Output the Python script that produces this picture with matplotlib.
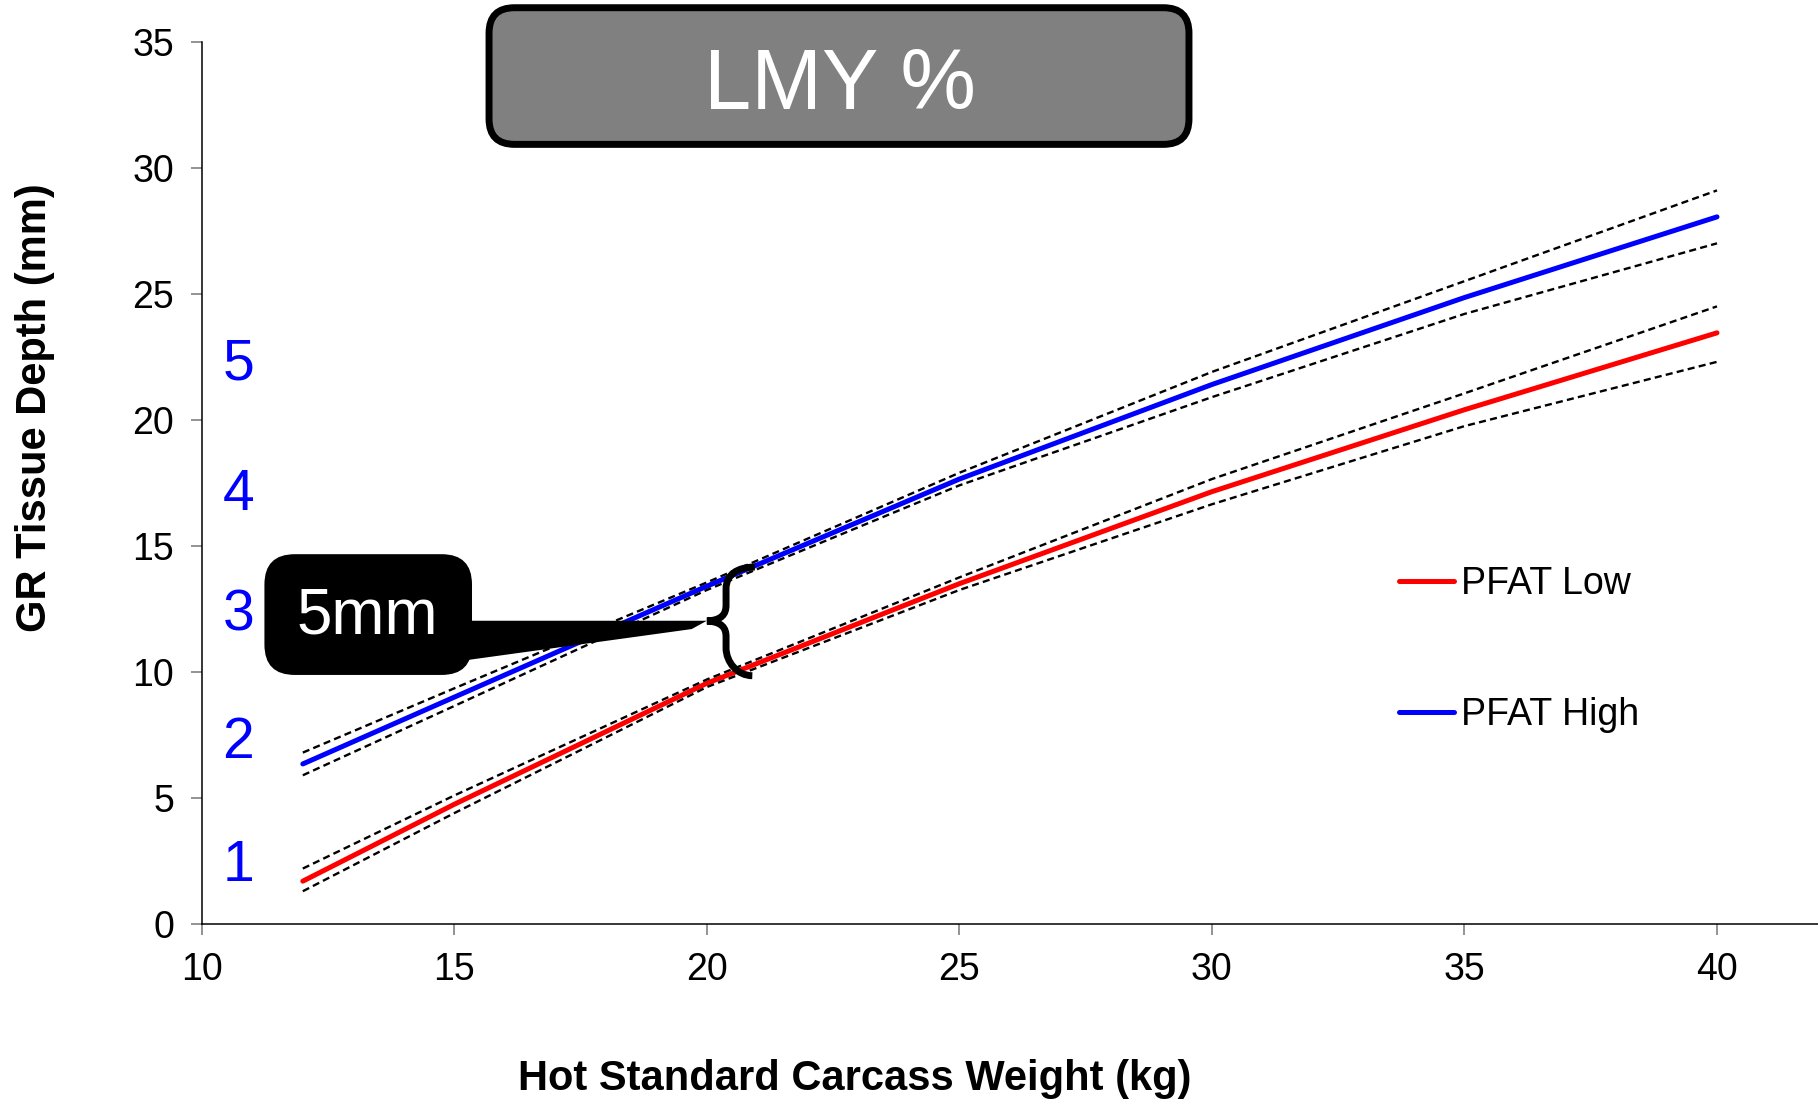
import matplotlib
matplotlib.use("Agg")
import matplotlib.pyplot as plt
from matplotlib.patches import FancyBboxPatch, Polygon, PathPatch
from matplotlib.path import Path

# values
weight = [12, 15, 20, 25, 30, 35, 40]
pfat_low = [1.7, 4.75, 9.55, 13.5, 17.15, 20.4, 23.45]
pfat_high = [6.35, 9.0, 13.4, 17.65, 21.4, 24.85, 28.05]
low_upper = [2.2, 5.1, 9.7, 13.75, 17.65, 21.05, 24.5]
low_lower = [1.3, 4.4, 9.4, 13.25, 16.65, 19.75, 22.3]
high_upper = [6.8, 9.35, 13.55, 17.9, 21.9, 25.5, 29.1]
high_lower = [5.9, 8.65, 13.25, 17.4, 20.9, 24.2, 27.0]

grade_labels = ["1", "2", "3", "4", "5"]
grade_y = [2.3, 7.2, 12.25, 17.0, 22.2]

plt.rcParams['font.family'] = ['Liberation Sans', 'DejaVu Sans']

fig = plt.figure(figsize=(18.18, 11.02), dpi=100)
ax = fig.add_axes([0.111, 0.1615, 0.889, 0.8007])

# fitted lines + dashed bands
ax.plot(weight, pfat_low, color='red', lw=3.6, label='PFAT Low',
        solid_capstyle='round', zorder=3)
ax.plot(weight, pfat_high, color='blue', lw=3.6, label='PFAT High',
        solid_capstyle='round', zorder=3)
for band in (low_upper, low_lower, high_upper, high_lower):
    ax.plot(weight, band, color='black', lw=1.7, dashes=(3, 1.8), zorder=4)

ax.set_xlim(10, 42)
ax.set_ylim(0, 35)
ax.set_xticks(range(10, 41, 5))
ax.set_yticks(range(0, 36, 5))
ax.spines['top'].set_visible(False)
ax.spines['right'].set_visible(False)
for s in ('left', 'bottom'):
    ax.spines[s].set_linewidth(1.1)
ax.tick_params(length=8, width=1.2, color='gray', labelsize=27, pad=12)

ax.set_xlabel('Hot Standard Carcass Weight (kg)', fontsize=30, fontweight='bold')
ax.xaxis.label.set_va('center')
ax.xaxis.set_label_coords(0.404, -0.176)
ax.set_ylabel('GR Tissue Depth (mm)', fontsize=30, fontweight='bold')
ax.yaxis.label.set_va('center')
ax.yaxis.set_label_coords(-0.103, 0.585)

# grade numbers on the left
for lab, yv in zip(grade_labels, grade_y):
    ax.text(10.72, yv, lab, color='blue', fontsize=41, ha='center', va='center')

ax.legend(loc='upper left', bbox_to_anchor=(0.741, 0.406), frameon=False,
          fontsize=27, handlelength=1.45, handletextpad=0.2, labelspacing=2.55,
          borderpad=0, borderaxespad=0)

# 5mm callout
box = FancyBboxPatch((11.24, 9.88), 4.11, 4.79,
                     boxstyle='round,pad=0,rounding_size=0.6',
                     mutation_aspect=2.0, fc='black', ec='none', zorder=6)
ax.add_patch(box)
wedge = Polygon([(15.0, 12.03), (20.0, 12.03), (19.7, 11.7), (15.0, 10.4)],
                closed=True, fc='black', ec='none', zorder=6)
ax.add_patch(wedge)
verts = [(20.0, 12.02), (20.3, 12.05), (20.38, 12.3), (20.38, 12.65),
         (20.38, 13.3),
         (20.38, 13.85), (20.6, 14.16), (20.95, 14.16),
         (20.0, 12.02), (20.3, 11.99), (20.38, 11.74), (20.38, 11.4),
         (20.38, 10.95),
         (20.38, 10.4), (20.6, 9.85), (20.9, 9.85)]
codes = [Path.MOVETO, Path.CURVE4, Path.CURVE4, Path.CURVE4,
         Path.LINETO,
         Path.CURVE4, Path.CURVE4, Path.CURVE4,
         Path.MOVETO, Path.CURVE4, Path.CURVE4, Path.CURVE4,
         Path.LINETO,
         Path.CURVE4, Path.CURVE4, Path.CURVE4]
ax.add_patch(PathPatch(Path(verts, codes), fc='none', ec='black', lw=5, zorder=6))
ax.text(13.28, 12.2, '5mm', color='white', fontsize=46, ha='center', va='center', zorder=7)

# title box
title_box = FancyBboxPatch((0.269, 0.869), 0.385, 0.124,
                           boxstyle='round,pad=0,rounding_size=0.014',
                           mutation_aspect=1.65, transform=fig.transFigure,
                           fc='#808080', ec='black', lw=5)
fig.add_artist(title_box)
fig.text(0.4618, 0.9215, 'LMY %', color='white', fontsize=61, ha='center', va='center')

fig.savefig('out.png', dpi=100)
